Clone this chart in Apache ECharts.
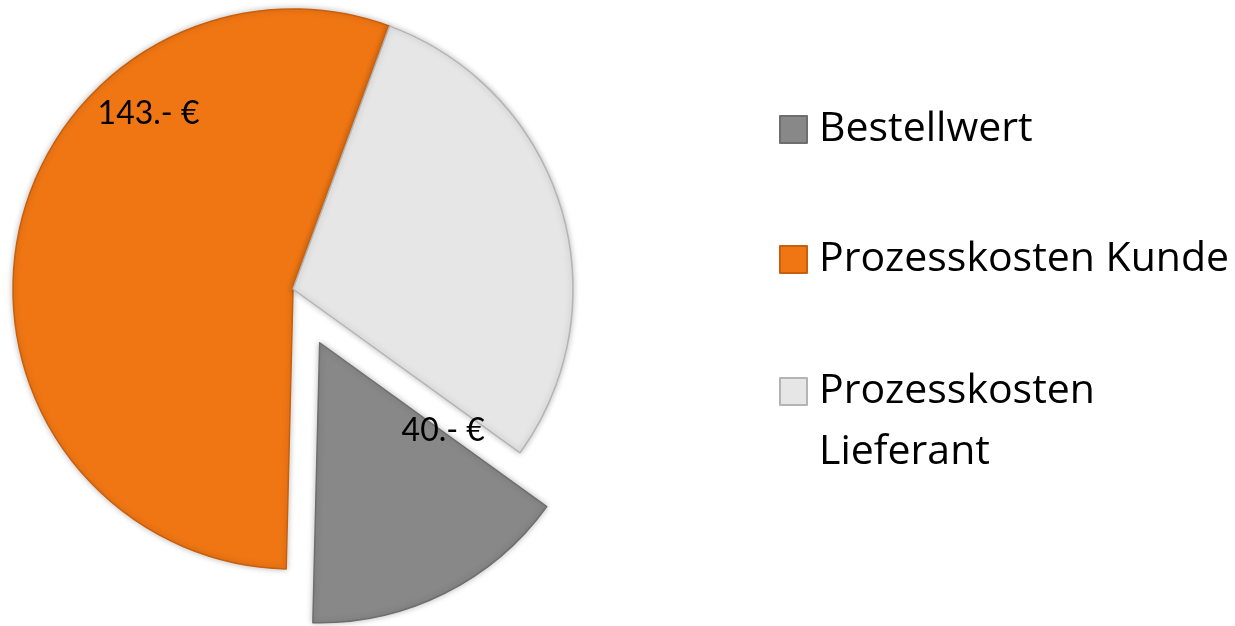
<!DOCTYPE html>
<html>
<head>
<meta charset="utf-8">
<script src="https://cdn.jsdelivr.net/npm/echarts@6/dist/echarts.min.js"></script>
<style>
  html, body { margin: 0; padding: 0; background: #fff; }
  #chart { width: 1235px; height: 626px; }
</style>
</head>
<body>
<div id="chart"></div>
<script>
// data
const categories = ["Bestellwert", "Prozesskosten Kunde", "Prozesskosten Lieferant"];
const values = [40, 143, 76];
const valueLabels = ["40.- €", "143.- €", ""];
// legend text lines (blank first line keeps the icon on the first text line)
const legendLines = [["Bestellwert"], ["Prozesskosten Kunde"], [" ", "Prozesskosten", "Lieferant"]];

const colors = ["#888888", "#F07613", "#E6E6E6"];
const borders = ["#6e6e6e", "#c85f0c", "#b4b4b4"];
// label nudges (Excel labels were dragged by hand)
const labelOffsets = [[60, -40], [-4, -149], [0, 0]];

const chart = echarts.init(document.getElementById("chart"));

const pieData = categories.map((name, i) => ({
  name: name,
  value: values[i],
  selected: i === 0,
  itemStyle: { color: colors[i], borderColor: borders[i] },
  label: {
    show: valueLabels[i] !== "",
    formatter: valueLabels[i],
  },
}));

const legendTops = [99, 229, 300];
const legends = categories.map((name, i) => ({
  data: [name],
  formatter: () => legendLines[i].map((s) => "{t|" + s + "}").join("\n"),
  left: 779,
  top: legendTops[i],
  padding: 0,
  icon: "rect",
  itemWidth: 27,
  itemHeight: 27,
  itemGap: 0,
  selectedMode: false,
  textStyle: {
    fontFamily: "Open Sans",
    fontSize: 41,
    lineHeight: 61,
    color: "#000",
    rich: {
      t: {
        fontFamily: "Open Sans",
        fontSize: 41,
        lineHeight: 61,
        color: "#000",
        padding: [0, 0, 0, 7],
      },
    },
  },
}));

const option = {
  animation: false,
  legend: legends,
  series: [
    {
      type: "pie",
      center: [293, 289],
      radius: 280,
      startAngle: -35.8,
      clockwise: true,
      selectedMode: "single",
      selectedOffset: 60,
      avoidLabelOverlap: false,
      itemStyle: {
        borderWidth: 1.5,
        shadowBlur: 6,
        shadowColor: "rgba(0,0,0,0.25)",
      },
      label: {
        position: "inside",
        fontFamily: "Lato",
        fontSize: 32,
        color: "#000",
      },
      labelLayout: (params) => ({
        dx: labelOffsets[params.dataIndex][0],
        dy: labelOffsets[params.dataIndex][1],
      }),
      labelLine: { show: false },
      emphasis: { disabled: true },
      data: pieData,
    },
  ],
};

chart.setOption(option);
</script>
</body>
</html>
